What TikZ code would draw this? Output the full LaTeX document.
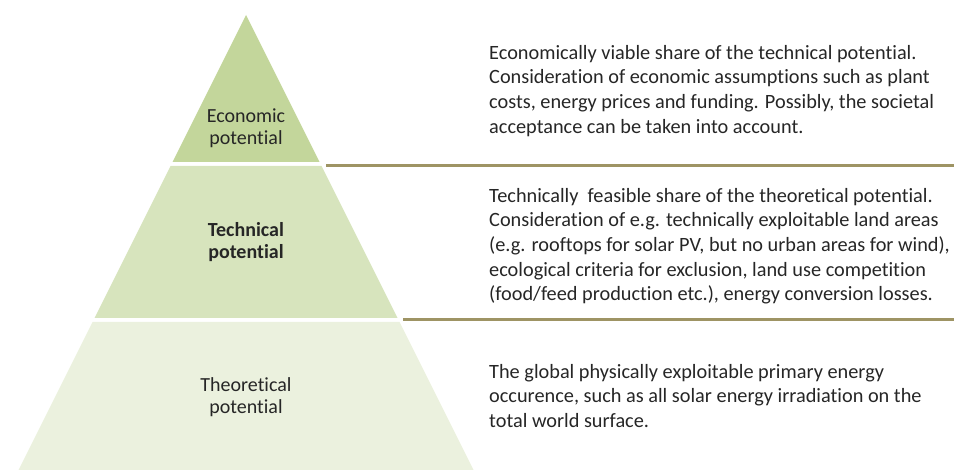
\documentclass[tikz,border=0pt]{standalone}
\usepackage{fontspec}
\setmainfont{Carlito}[Ligatures={NoCommon,NoContextual,NoRequired},RawFeature={-liga;-clig;-calt;-dlig;-rlig}]
\definecolor{tierA}{HTML}{C3D69B}
\definecolor{tierB}{HTML}{D7E4BD}
\definecolor{tierC}{HTML}{EBF1DE}
\definecolor{rule}{HTML}{9E9464}
\definecolor{ink}{HTML}{262626}
\tikzset{
  tier/.style={draw=white, line width=1.2pt},
  tierlabel/.style={align=center, inner sep=0pt, text=ink,
    font=\fontsize{20}{22.5}\selectfont},
  desc/.style={align=left, anchor=north west, inner sep=0pt, text=ink,
    font=\fontsize{20.3}{24.6}\selectfont},
  sep/.style={draw=rule, line width=2.2pt}
}
\begin{document}
\begin{tikzpicture}[x=1pt,y=-1pt]
\useasboundingbox (0,0) rectangle (954,470);
% pyramid tiers
\fill[tierA] (246,15) -- (319.5,162) -- (172.5,162) -- cycle;
\fill[tierB] (170.5,166) -- (321.5,166) -- (397.5,318) -- (94.5,318) -- cycle;
\fill[tierC] (92.5,322) -- (399.5,322) -- (475.5,474) -- (16.5,474) -- cycle;
% separators
\coordinate (s1a) at (326,165.5);
\coordinate (s1b) at (954,165.5);
\coordinate (s2a) at (403,319.5);
\coordinate (s2b) at (954,319.5);
\draw[sep] (s1a) -- (s1b);
\draw[sep] (s2a) -- (s2b);
% labels
\node[tierlabel] (eco) at (246,128) {Economic\\potential};
\node[tierlabel, font=\fontsize{20}{22.5}\selectfont\bfseries] (tec) at (246,242) {Technical\\potential};
\node[tierlabel] (the) at (246,397) {Theoretical\\potential};
% descriptions
\node[desc] (d1) at (489,45) {Economically viable share of the technical potential.\\
Consideration of economic assumptions such as plant\\
costs, energy prices and funding. Possibly, the societal\\
acceptance can be taken into account.};
\node[desc] (d2) at (489,188) {Technically\ \ feasible share of the theoretical potential.\\
Consideration of e.g. technically exploitable land areas\\
(e.g. rooftops for solar PV, but no urban areas for wind),\\
ecological criteria for exclusion, land use competition\\
(food/feed production etc.), energy conversion losses.};
\node[desc] (d3) at (489,364) {The global physically exploitable primary energy\\
occurence, such as all solar energy irradiation on the\\
total world surface.};
\end{tikzpicture}
\end{document}
